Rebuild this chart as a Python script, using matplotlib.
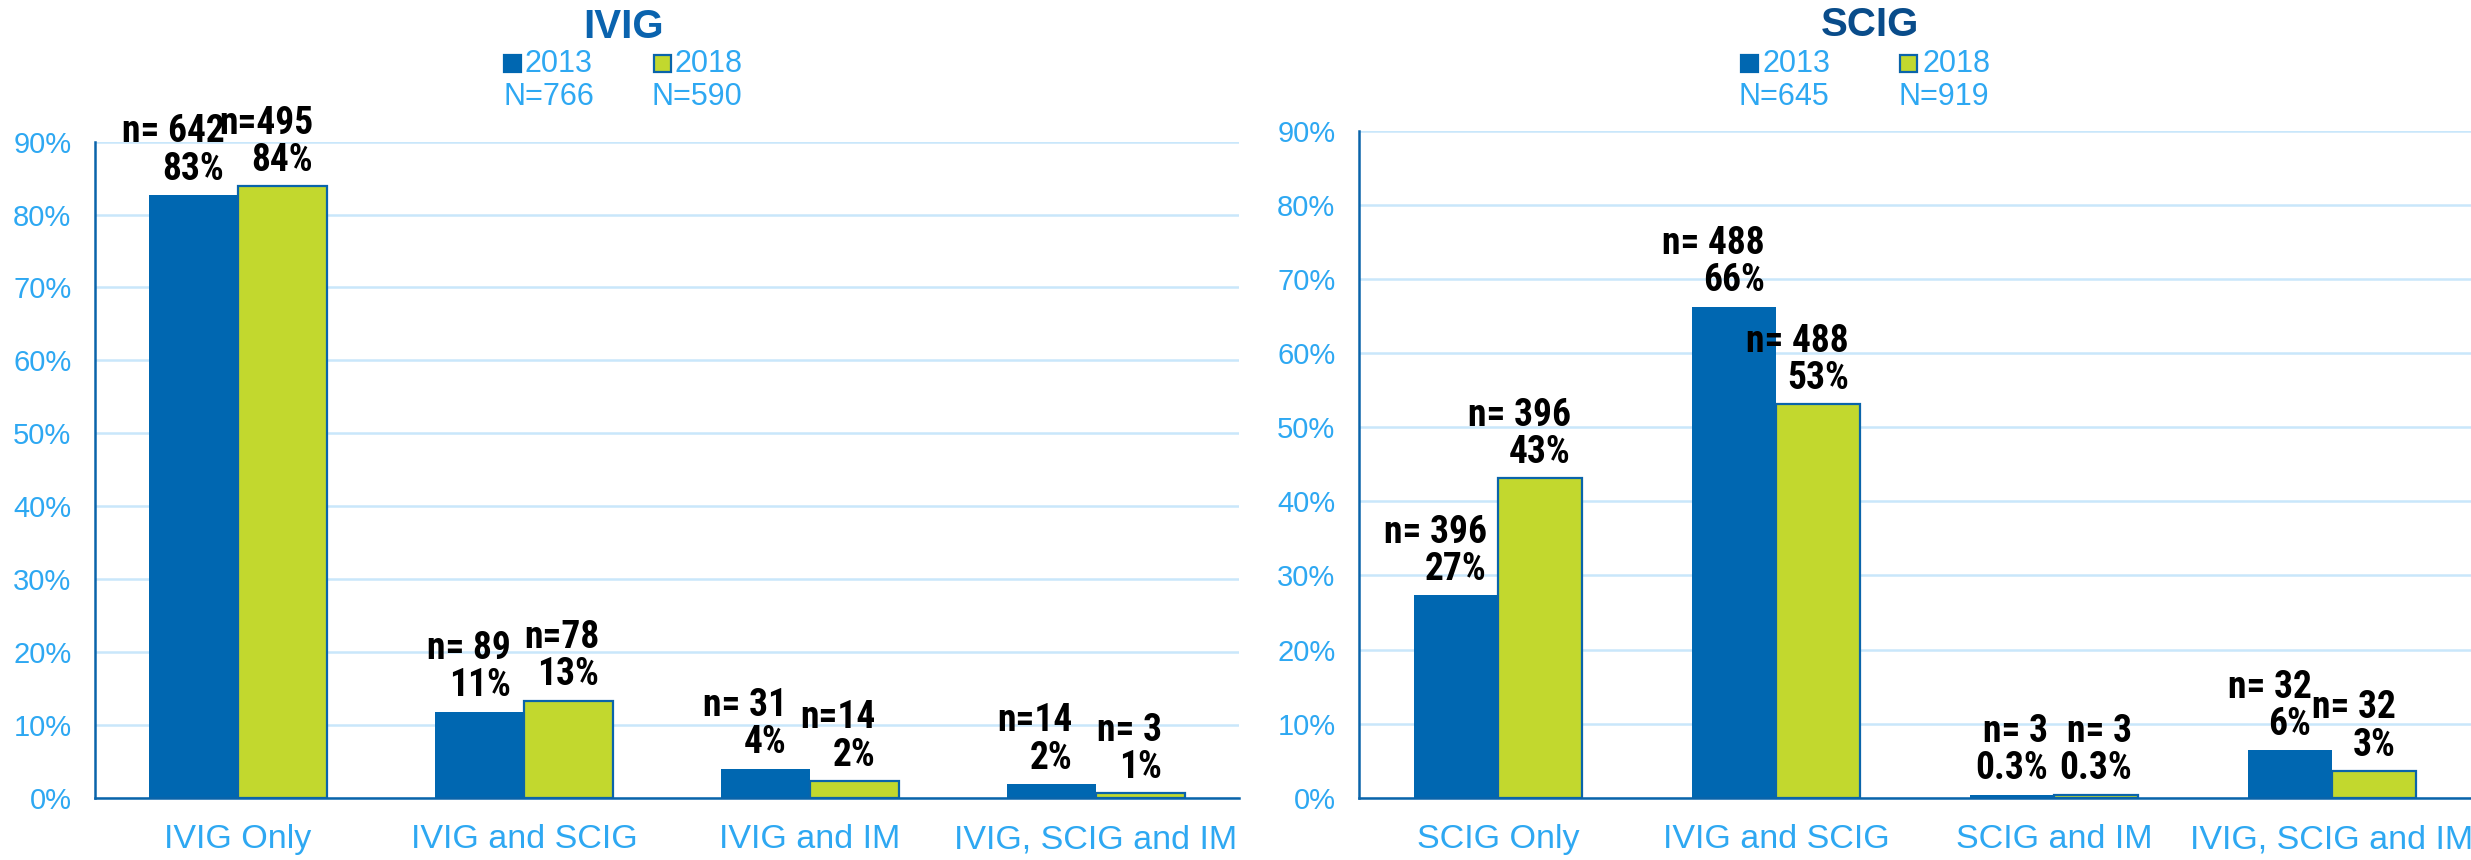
import matplotlib
matplotlib.use("Agg")
import matplotlib.pyplot as plt
from matplotlib.patches import Rectangle

# categories and values
ivig_cats = ["IVIG Only", "IVIG and SCIG", "IVIG and IM", "IVIG, SCIG and IM"]
ivig_2013 = [82.7, 11.8, 4.0, 1.9]
ivig_2018 = [83.9, 13.3, 2.3, 0.6]
ivig_n_2013 = ["n= 642", "n= 89", "n= 31", "n=14"]
ivig_n_2018 = ["n=495", "n=78", "n=14", "n= 3"]
ivig_pct_2013 = ["83%", "11%", "4%", "2%"]
ivig_pct_2018 = ["84%", "13%", "2%", "1%"]
ivig_N = ["N=766", "N=590"]

scig_cats = ["SCIG Only", "IVIG and SCIG", "SCIG and IM", "IVIG, SCIG and IM"]
scig_2013 = [27.3, 66.3, 0.4, 6.4]
scig_2018 = [43.1, 53.1, 0.4, 3.6]
scig_n_2013 = ["n= 396", "n= 488", "n= 3", "n= 32"]
scig_n_2018 = ["n= 396", "n= 488", "n= 3", "n= 32"]
scig_pct_2013 = ["27%", "66%", "0.3%", "6%"]
scig_pct_2018 = ["43%", "53%", "0.3%", "3%"]
scig_N = ["N=645", "N=919"]

years = ["2013", "2018"]
yticks = list(range(0, 100, 10))

BLUE = "#0067B1"
GREEN = "#C2D82E"
EDGE = "#0A64AA"
LIGHT = "#2EA8F2"
GRID = "#C9E7FB"

W, H = 2471, 860
plt.rcParams["font.family"] = ["Liberation Sans", "DejaVu Sans"]
LABEL_FONT = ["Roboto Condensed", "Liberation Sans Narrow", "Liberation Sans", "DejaVu Sans"]

fig = plt.figure(figsize=(W / 100, H / 100), dpi=100)


def fx(px):
    return px / W


def fy(py):
    return 1 - py / H


def draw_panel(rect, cats, v13, v18, n13, n18, p13, p18, width):
    ax = fig.add_axes(rect)
    x = list(range(len(cats)))
    b1 = ax.bar([i - width / 2 for i in x], v13, width, color=BLUE,
                edgecolor=BLUE, linewidth=0, zorder=3)
    b2 = ax.bar([i + width / 2 for i in x], v18, width, color=GREEN,
                edgecolor=EDGE, linewidth=1.6, zorder=3)
    # two-line data labels: percentage centred on the bar, n= line right-aligned above it
    for bars, nl, pl in ((b1, n13, p13), (b2, n18, p18)):
        for rect_, n, p in zip(bars, nl, pl):
            cx = rect_.get_x() + rect_.get_width() / 2
            t = ax.annotate(p, (cx, rect_.get_height()), xytext=(0, 11),
                            textcoords="offset points", ha="center",
                            va="baseline", fontsize=27, fontweight="bold",
                            family=LABEL_FONT, zorder=5)
            ax.annotate(n, (1, 1), xycoords=t, xytext=(0, 6),
                        textcoords="offset points", ha="right",
                        va="baseline", fontsize=27, fontweight="bold",
                        family=LABEL_FONT, zorder=5)
    ax.set_xlim(-0.5, len(cats) - 0.5)
    ax.set_ylim(0, 90)
    ax.set_yticks(yticks)
    ax.set_yticklabels([f"{t}%" for t in yticks])
    ax.set_xticks(x)
    ax.set_xticklabels(cats)
    ax.tick_params(axis="y", length=0, pad=17, labelsize=21, labelcolor=LIGHT)
    ax.tick_params(axis="x", length=0, pad=19, labelsize=24.5, labelcolor=LIGHT)
    ax.grid(axis="y", color=GRID, linewidth=1.8, zorder=0)
    ax.set_axisbelow(True)
    for s in ("top", "right"):
        ax.spines[s].set_visible(False)
    for s in ("left", "bottom"):
        ax.spines[s].set_color(EDGE)
        ax.spines[s].set_linewidth(1.8)
        ax.spines[s].set_zorder(4)
    return ax


draw_panel([fx(95), fy(797.7), fx(1239 - 95), (797.7 - 141.7) / H],
           ivig_cats, ivig_2013, ivig_2018, ivig_n_2013, ivig_n_2018,
           ivig_pct_2013, ivig_pct_2018, 0.311)
draw_panel([fx(1359), fy(797.7), fx(W - 1359), (797.7 - 131) / H],
           scig_cats, scig_2013, scig_2018, scig_n_2013, scig_n_2018,
           scig_pct_2013, scig_pct_2018, 0.302)


def header(title, tcolor, tx, ty, sq, txt, nx, Ns):
    fig.text(fx(tx), fy(ty), title, ha="center", va="center", fontsize=29,
             fontweight="bold", color=tcolor)
    colors = [(BLUE, BLUE), (GREEN, EDGE)]
    for (fc, ec), sx, tx_, ncx, yr, N in zip(colors, sq, txt, nx, years, Ns):
        fig.patches.append(Rectangle((fx(sx - 8.5), fy(72)), fx(17), 17 / H,
                                     transform=fig.transFigure, facecolor=fc,
                                     edgecolor=ec, linewidth=1.6))
        fig.text(fx(tx_), fy(64), yr, ha="left", va="center", fontsize=22,
                 color=LIGHT)
        fig.text(fx(ncx), fy(97), N, ha="center", va="center", fontsize=22,
                 color=LIGHT)


header("IVIG", "#0A63AE", 624, 27, [512, 662], [525, 675], [549, 697], ivig_N)
header("SCIG", "#094C8A", 1870, 25, [1749, 1908], [1762, 1922], [1784, 1944],
       scig_N)

fig.savefig("out.png", dpi=100)
